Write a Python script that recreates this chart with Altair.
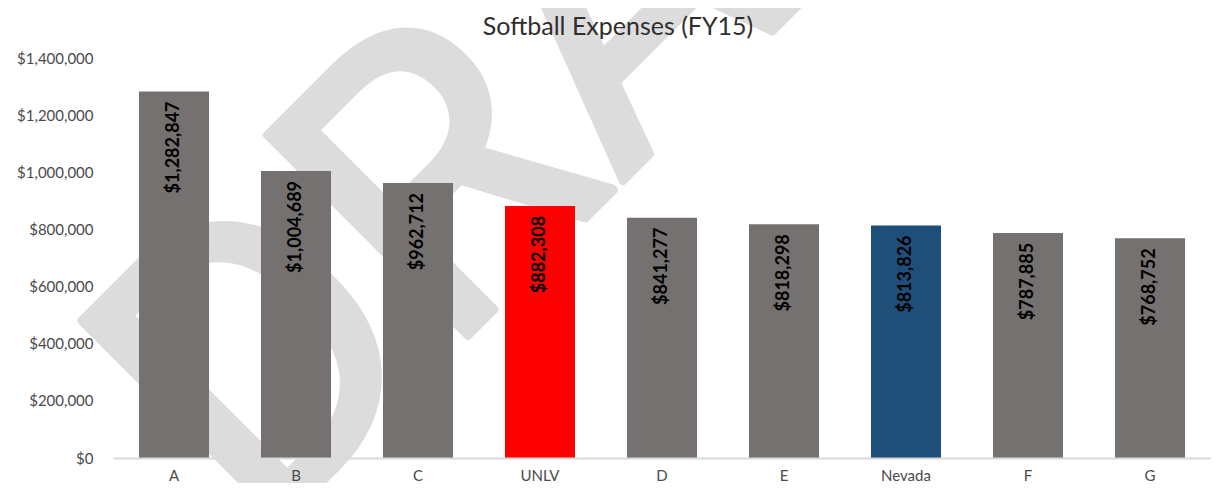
import altair as alt
import pandas as pd

# ---- data ----
categories = ["A", "B", "C", "UNLV", "D", "E", "Nevada", "F", "G"]
expenses = [1282847, 1004689, 962712, 882308, 841277, 818298, 813826, 787885, 768752]
bar_colors = ["#767171", "#767171", "#767171", "#FF0000", "#767171",
              "#767171", "#1F4E79", "#767171", "#767171"]
y_ticks = [0, 200000, 400000, 600000, 800000, 1000000, 1200000, 1400000]
chart_title = ["Softball Expenses (FY15)"]
watermark_text = ["DRAFT"]

df = pd.DataFrame({"cat": categories, "val": expenses, "color": bar_colors})
wm = pd.DataFrame({"t": watermark_text})
tt = pd.DataFrame({"t": chart_title})

FONT = "Lato"

x_enc = alt.X(
    "cat:N",
    sort=categories,
    scale=alt.Scale(paddingInner=0.426, paddingOuter=0.213),
    axis=alt.Axis(
        title=None, labelAngle=0, ticks=False, tickSize=0,
        domainColor="#d9d9d9", domainWidth=2,
        labelFont=FONT, labelFontSize=15, labelColor="#4a4a4a",
        labelPadding=10, labelBaseline="top", zindex=1,
    ),
)
y_enc = alt.Y(
    "val:Q",
    scale=alt.Scale(domain=[0, 1400000], nice=False, zero=True),
    axis=alt.Axis(
        title=None, values=y_ticks, format="$,.0f",
        domain=False, grid=False, ticks=False, tickSize=0,
        labelFont=FONT, labelFontSize=15, labelColor="#4a4a4a",
        labelPadding=20, zindex=1,
    ),
)

watermark = alt.Chart(wm).mark_text(
    font="Roboto", fontSize=400, angle=315, align="left", baseline="alphabetic",
    color="#dcdcdc", stroke="#dcdcdc", strokeWidth=8, strokeJoin="round",
).encode(
    text="t:N",
    x=alt.value(146),
    y=alt.value(487),
)

title = alt.Chart(tt).mark_text(
    font=FONT, fontSize=25, align="center", baseline="alphabetic",
    color="#2e2e2e",
).encode(
    text="t:N",
    x=alt.value(505),
    y=alt.value(-23),
)

bars = alt.Chart(df).mark_bar().encode(
    x=x_enc,
    y=y_enc,
    color=alt.Color("color:N", scale=None),
)

labels = alt.Chart(df).mark_text(
    angle=270, align="right", baseline="middle", dx=-10,
    font=FONT, fontSize=18, fontWeight="bold", color="#000000",
).encode(
    x=alt.X("cat:N", sort=categories),
    y=alt.Y("val:Q"),
    text=alt.Text("val:Q", format="$,.0f"),
)

chart = alt.layer(watermark, bars, labels, title).properties(
    width=1098,
    height=400,
    background="white",
    autosize=alt.AutoSizeParams(type="none"),
    padding={"left": 105, "top": 50, "right": 0, "bottom": 25},
).configure_view(stroke=None)

chart.save("out.html", embed_options={"renderer": "svg", "actions": False})
